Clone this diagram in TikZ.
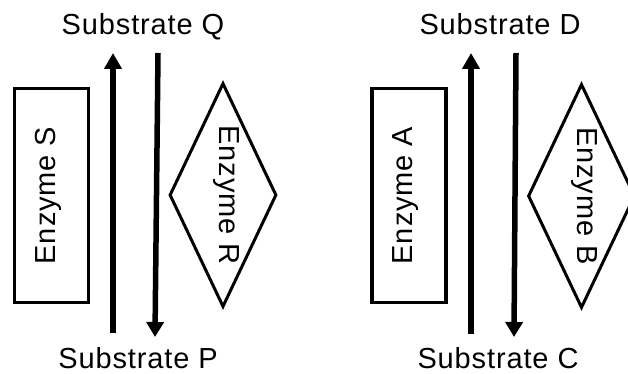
\documentclass[tikz,border=0pt]{standalone}
\usepackage{fontspec}
\setmainfont{Liberation Sans}[LetterSpace=3]
\usepackage{tikz}
\usetikzlibrary{arrows.meta, shapes.geometric}

\begin{document}
\begin{tikzpicture}[
    x=1pt, y=-1pt,
    enzbox/.style={draw, line width=3.2pt, rotate=90, inner sep=0pt,
                   minimum width=214pt, minimum height=74pt,
                   text height=0.72em, text depth=0pt,
                   font=\fontsize{29}{34}\selectfont},
    enzdia/.style={draw, line width=3pt, diamond, aspect=2.1, rotate=-90,
                   inner sep=0pt, minimum width=224pt, minimum height=107pt,
                   text height=0.72em, text depth=0pt,
                   font=\fontsize{29}{34}\selectfont},
    sub/.style={anchor=base, inner sep=0pt, font=\fontsize{29}{34}\selectfont},
    upflow/.style={-{Triangle[length=16pt, width=17pt]}, line width=5.5pt},
    dnflow/.style={-{Triangle[length=15pt, width=17pt]}, line width=5.5pt},
  ]
    \useasboundingbox (0,0) rectangle (628,374);

    % === Left pair (Q / P) ===
    \node[sub] (subQ) at (143,35) {Substrate Q};
    \node[sub] (subP) at (138,368) {Substrate P};
    \node[enzbox] (enzS) at (51.5,195.5) {Enzyme S};
    \node[enzdia] (enzR) at (223,195) {Enzyme R};

    \coordinate (lUpBot) at (113,333);
    \coordinate (lUpTop) at (113,53);
    \coordinate (lDnTop) at (158,53);
    \coordinate (lDnBot) at (155,337);

    % === Right pair (D / C) ===
    \node[sub] (subD) at (500,35) {Substrate D};
    \node[sub] (subC) at (498,368) {Substrate C};
    \node[enzbox] (enzA) at (409,195.5) {Enzyme A};
    \node[enzdia] (enzB) at (581.5,196) {Enzyme B};

    \coordinate (rUpBot) at (471,334);
    \coordinate (rUpTop) at (471,53);
    \coordinate (rDnTop) at (516,53);
    \coordinate (rDnBot) at (514,337);

    % === Arrows ===
    \draw[upflow] (lUpBot) -- (lUpTop);
    \draw[dnflow] (lDnTop) -- (lDnBot);
    \draw[upflow] (rUpBot) -- (rUpTop);
    \draw[dnflow] (rDnTop) -- (rDnBot);
  \end{tikzpicture}
\end{document}
